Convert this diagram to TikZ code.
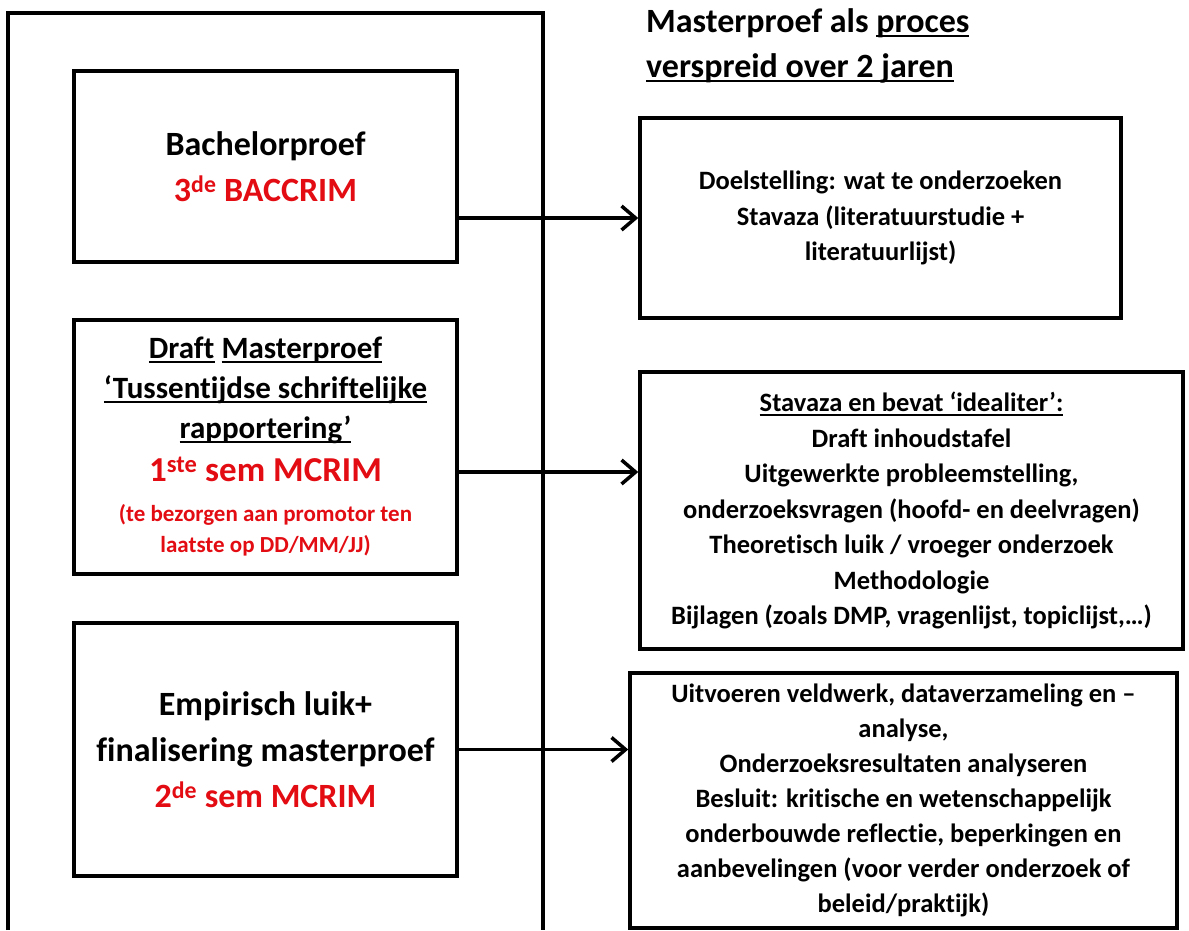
\documentclass[tikz,border=0pt]{standalone}
\usepackage{fontspec}
\setmainfont{Carlito}[Ligatures=NoCommon]
\usepackage{tikz}
\usetikzlibrary{arrows.meta}
\definecolor{critred}{RGB}{226,12,18}
\newcommand{\fsz}[2]{\fontsize{#1}{#2}\selectfont}
\newsavebox{\ulbox}
\newcommand{\ulin}[1]{\sbox\ulbox{#1}\leavevmode\rlap{\rule[-4.5pt]{\wd\ulbox}{2pt}}\usebox\ulbox}

\begin{document}
\begin{tikzpicture}[x=1pt,y=-1pt,
    every node/.style={align=center,inner sep=0pt},
    phase/.style={draw,line width=3.5pt,minimum width=383pt,font=\bfseries\fsz{34}{46}},
    task/.style={draw,line width=3.5pt,font=\bfseries\fsz{26.5}{35.5}},
    arr/.style={line width=3.5pt,-{Straight Barb[length=14pt,width=24pt]}}]
  \useasboundingbox (0,0) rectangle (1189,930);
  % frame round the left column, open at the bottom
  \draw[line width=3.5pt] (8,930) -- (8,13) -- (543,13) -- (543,930);

  \node[anchor=base west,align=left,font=\bfseries\fsz{34}{45}] (title) at (646,77)
    {Masterproef als \ulin{proces}\\\ulin{verspreid over 2 jaren}};

  \node[phase,minimum height=191pt] (bach) at (265.5,166.5)
    {Bachelorproef\\\textcolor{critred}{3\textsuperscript{de} BACCRIM}};
  \node[phase,minimum height=254pt,font=\bfseries\fsz{31}{40}] (draft) at (265.5,447)
    {\ulin{Draft} \ulin{Masterproef}\\\ulin{‘Tussentijdse schriftelijke}\\\ulin{rapportering’}\\[3pt]
     {\color{critred}\fsz{35}{40}1\textsuperscript{ste} sem MCRIM}\\
     {\color{critred}\fsz{23}{31}(te bezorgen aan promotor ten}\\[-9pt]
     {\color{critred}\fsz{23}{31}laatste op DD/MM/JJ)}};
  \node[phase,minimum height=253pt] (emp) at (265.5,749.5)
    {Empirisch luik+\\finalisering masterproef\\\textcolor{critred}{2\textsuperscript{de} sem MCRIM}};

  \node[task,minimum width=481pt,minimum height=200pt] (doel) at (880.5,218)
    {Doelstelling: wat te onderzoeken\\Stavaza (literatuurstudie +\\literatuurlijst)};
  \node[task,minimum width=543pt,minimum height=277pt] (stav) at (911.5,510.5)
    {\ulin{Stavaza en bevat ‘idealiter’:}\\Draft inhoudstafel\\Uitgewerkte probleemstelling,\\
     onderzoeksvragen (hoofd- en deelvragen)\\Theoretisch luik / vroeger onderzoek\\
     Methodologie\\Bijlagen (zoals DMP, vragenlijst, topiclijst,…)};
  \node[task,minimum width=547pt,minimum height=255pt,font=\bfseries\fsz{26.5}{35}] (uitv) at (903.5,800.5)
    {Uitvoeren veldwerk, dataverzameling en –\\analyse,\\Onderzoeksresultaten analyseren\\
     Besluit: kritische en wetenschappelijk\\onderbouwde reflectie, beperkingen en\\
     aanbevelingen (voor verder onderzoek of\\beleid/praktijk)};

  \coordinate (d2) at ([yshift=-25pt]draft.east);
  \draw[arr] (bach.east |- doel.west) -- (doel.west);
  \draw[arr] (d2) -- (d2 -| stav.west);
  \draw[arr] (emp.east) -- (emp.east -| uitv.west);
\end{tikzpicture}
\end{document}
